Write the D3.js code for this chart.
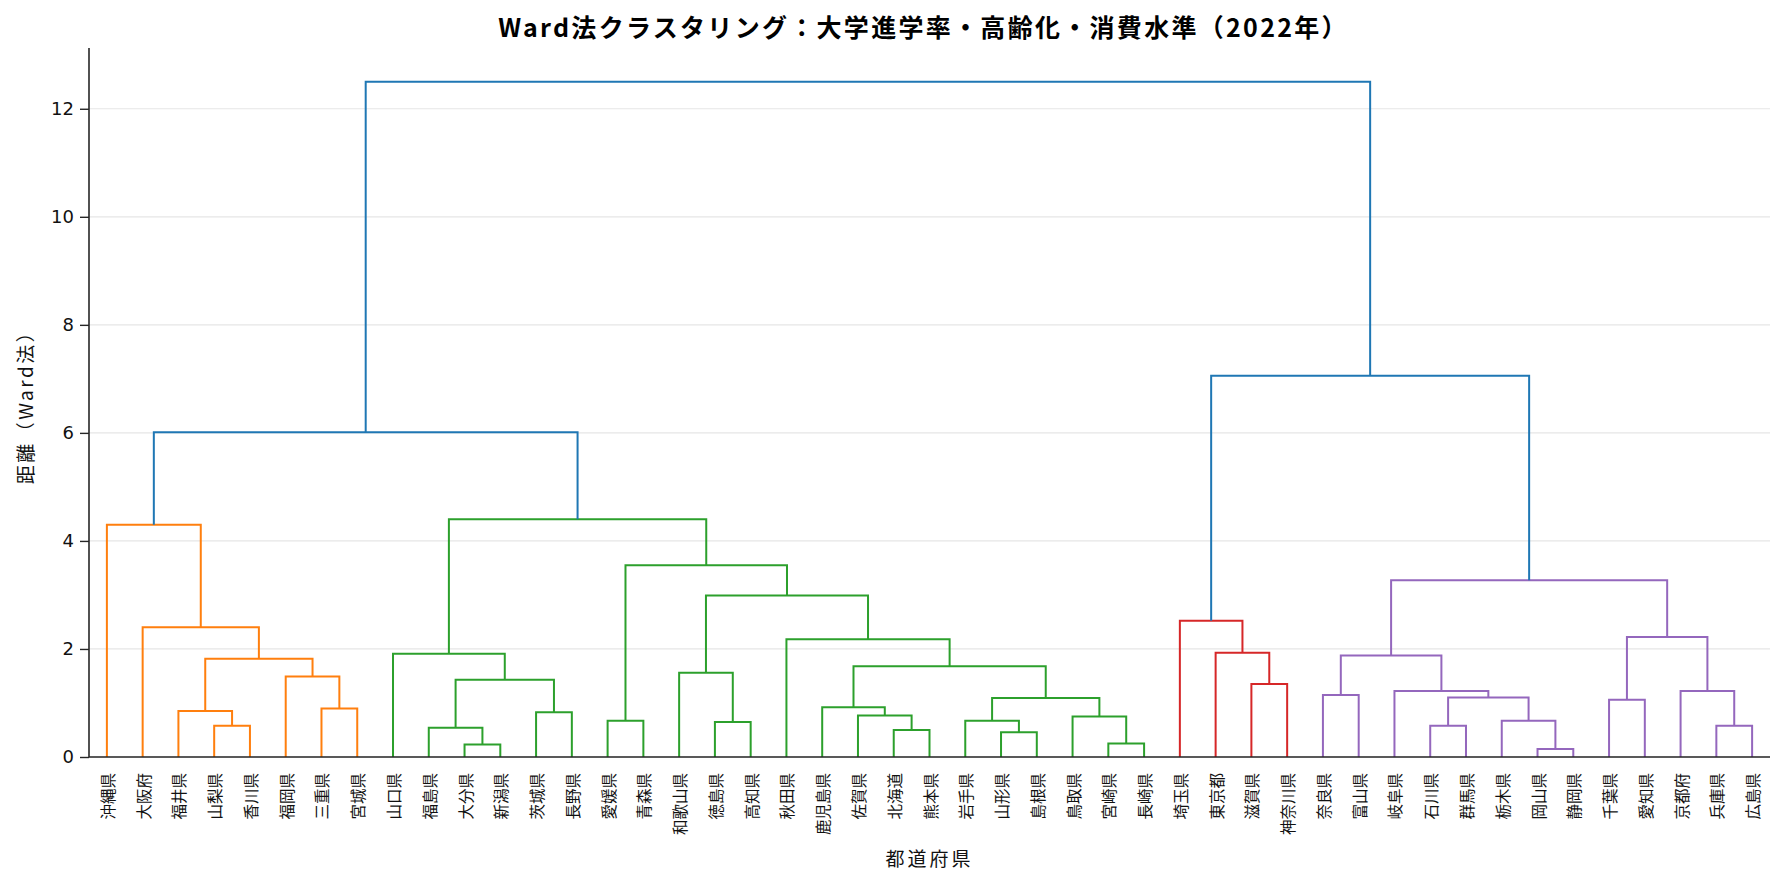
<!DOCTYPE html>
<html>
<head>
<meta charset="utf-8">
<script src="https://cdn.jsdelivr.net/npm/d3@7"></script>
<style>
  html, body { margin: 0; padding: 0; background: #fff; }
  text { font-family: "Noto Sans CJK JP", "Noto Sans", sans-serif; }
</style>
</head>
<body>
<svg id="chart" width="1785" height="884"></svg>
<script>
// ---- data ----
const leafLabels = ["沖縄県","大阪府","福井県","山梨県","香川県","福岡県","三重県","宮城県",
  "山口県","福島県","大分県","新潟県","茨城県","長野県","愛媛県","青森県","和歌山県","徳島県","高知県",
  "秋田県","鹿児島県","佐賀県","北海道","熊本県","岩手県","山形県","島根県","鳥取県","宮崎県","長崎県",
  "埼玉県","東京都","滋賀県","神奈川県",
  "奈良県","富山県","岐阜県","石川県","群馬県","栃木県","岡山県","静岡県","千葉県","愛知県","京都府","兵庫県","広島県"];

// merges: [childA, childB, distance]; ids < 47 are leaves, merge k gets id 47 + k
const merges = [
  [3,4,0.58],[2,47,0.85],[6,7,0.90],[5,49,1.49],[48,50,1.82],[1,51,2.40],[0,52,4.30],
  [10,11,0.23],[9,54,0.54],[12,13,0.83],[55,56,1.43],[8,57,1.91],
  [14,15,0.67],[17,18,0.65],[16,60,1.56],
  [22,23,0.50],[21,62,0.77],[20,63,0.92],
  [25,26,0.46],[24,65,0.67],[28,29,0.25],[27,67,0.75],[66,68,1.09],
  [64,69,1.68],[19,70,2.18],[61,71,2.99],[59,72,3.55],[58,73,4.40],
  [53,74,6.01],
  [32,33,1.35],[31,76,1.93],[30,77,2.52],
  [34,35,1.15],[37,38,0.58],[40,41,0.15],[39,81,0.67],[80,82,1.10],[36,83,1.22],[79,84,1.88],
  [42,43,1.06],[45,46,0.58],[44,87,1.22],[86,88,2.22],[85,89,3.27],
  [78,90,7.06],
  [75,91,12.50]
];

const clusterSizes = [8, 22, 4, 13];
const clusterColors = ["#ff7f0e", "#2ca02c", "#d62728", "#9467bd"];
const aboveColor = "#1f77b4";
const yTicks = [0, 2, 4, 6, 8, 10, 12];

const titleText = "Ward法クラスタリング：大学進学率・高齢化・消費水準（2022年）";
const xTitle = "都道府県";
const yTitle = "距離（Ward法）";

// ---- layout ----
const W = 1785, H = 884;
const margin = { left: 89, right: 15, top: 48, bottom: 127 };
const svg = d3.select("#chart");
const n = leafLabels.length;
const maxD = d3.max(merges, d => d[2]);

const x = d3.scaleLinear().domain([0, 10 * n]).range([margin.left, W - margin.right]);
const y = d3.scaleLinear().domain([0, maxD * 1.05]).range([H - margin.bottom, margin.top]);

// leaf cluster assignment
const leafCluster = [];
clusterSizes.forEach((s, ci) => { for (let k = 0; k < s; k++) leafCluster.push(ci); });

// node info
const nodeX = [], nodeY = [], nodeCluster = [];
for (let i = 0; i < n; i++) { nodeX[i] = 5 + 10 * i; nodeY[i] = 0; nodeCluster[i] = leafCluster[i]; }
merges.forEach((m, k) => {
  const id = n + k;
  nodeX[id] = (nodeX[m[0]] + nodeX[m[1]]) / 2;
  nodeY[id] = m[2];
  nodeCluster[id] = (nodeCluster[m[0]] === nodeCluster[m[1]]) ? nodeCluster[m[0]] : -1;
});

// grid
svg.append("g").selectAll("line").data(yTicks).join("line")
  .attr("x1", x(0)).attr("x2", x(10 * n))
  .attr("y1", d => y(d)).attr("y2", d => y(d))
  .attr("stroke", "#e6e6e6").attr("stroke-width", 1.2);

// links
svg.append("g").selectAll("path").data(merges).join("path")
  .attr("d", m => {
    const a = m[0], b = m[1];
    return `M${x(nodeX[a])},${y(nodeY[a])}V${y(m[2])}H${x(nodeX[b])}V${y(nodeY[b])}`;
  })
  .attr("fill", "none")
  .attr("stroke", (m, k) => nodeCluster[n + k] >= 0 ? clusterColors[nodeCluster[n + k]] : aboveColor)
  .attr("stroke-width", 2);

// y axis
const yAxis = svg.append("g").attr("transform", `translate(${x(0)},0)`)
  .call(d3.axisLeft(y).tickValues(yTicks).tickSize(9).tickPadding(6).tickFormat(d3.format("d")));
yAxis.select(".domain").attr("stroke", "#262626").attr("stroke-width", 1.6)
  .attr("d", `M0,${y(maxD * 1.05)}V${y(0)}`);
yAxis.selectAll(".tick line").attr("stroke", "#262626").attr("stroke-width", 1.4);
yAxis.selectAll(".tick text").attr("font-size", 18).attr("fill", "#111")
  .style("font-family", "'DejaVu Sans', sans-serif");

// x axis line
svg.append("line")
  .attr("x1", x(0)).attr("x2", x(10 * n))
  .attr("y1", y(0)).attr("y2", y(0))
  .attr("stroke", "#262626").attr("stroke-width", 1.6);

// leaf labels
svg.append("g").selectAll("text").data(leafLabels).join("text")
  .attr("transform", (d, i) => `translate(${x(5 + 10 * i)},${y(0) + 16}) rotate(-90)`)
  .attr("text-anchor", "end")
  .attr("dominant-baseline", "central")
  .attr("font-size", 15.5)
  .attr("fill", "#111")
  .text(d => d);

// titles
svg.append("text")
  .attr("x", (x(0) + x(10 * n)) / 2 - 6).attr("y", 26)
  .attr("text-anchor", "middle").attr("dominant-baseline", "central")
  .attr("font-size", 25).attr("font-weight", "bold").attr("fill", "#000")
  .attr("letter-spacing", 2.3)
  .text(titleText);

svg.append("text")
  .attr("x", (x(0) + x(10 * n)) / 2).attr("y", 857)
  .attr("text-anchor", "middle").attr("dominant-baseline", "central")
  .attr("font-size", 19).attr("fill", "#111")
  .attr("letter-spacing", 3)
  .text(xTitle);

svg.append("text")
  .attr("transform", `translate(24,${(y(0) + y(maxD * 1.05)) / 2}) rotate(-90)`)
  .attr("text-anchor", "middle").attr("dominant-baseline", "central")
  .attr("font-size", 19).attr("fill", "#111")
  .attr("letter-spacing", 2.5)
  .text(yTitle);
</script>
</body>
</html>
